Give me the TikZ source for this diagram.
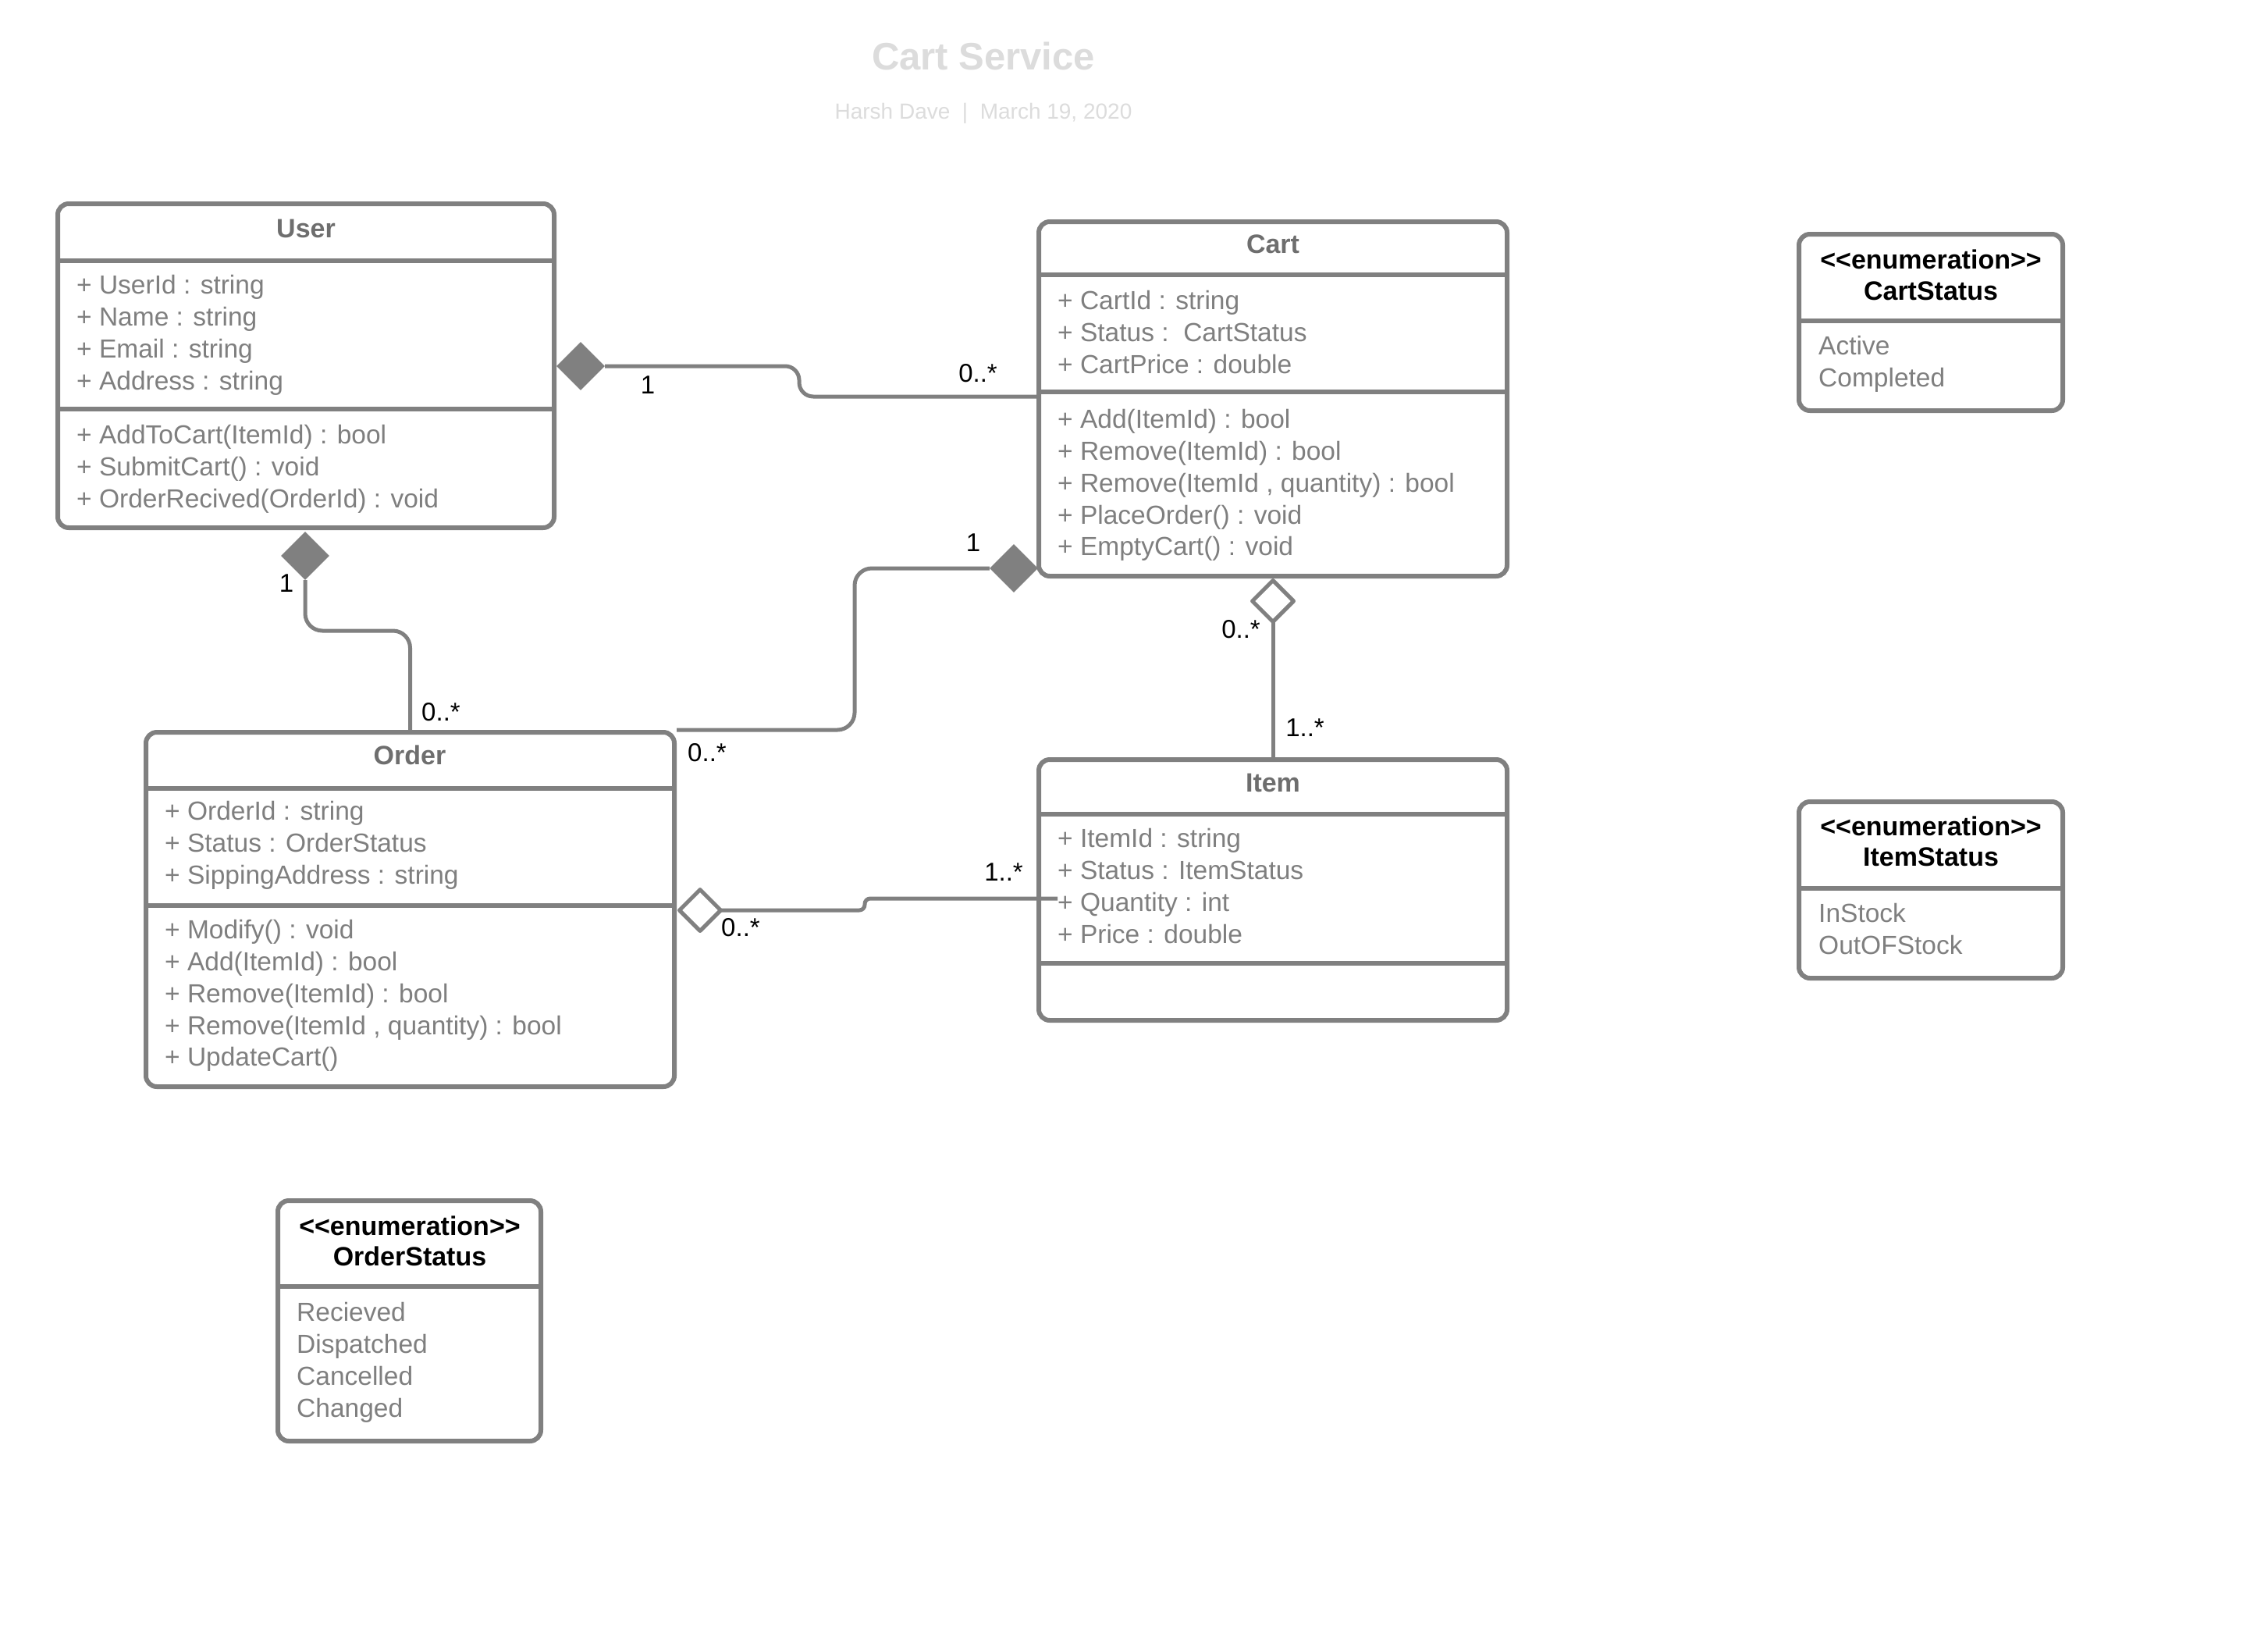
\documentclass[tikz,border=0pt]{standalone}
\usepackage{fontspec}
\setmainfont{Liberation Sans}
\usetikzlibrary{shapes.geometric,fit}
\definecolor{linegray}{HTML}{808080}
\definecolor{textgray}{HTML}{7F7F7F}
\definecolor{headgray}{HTML}{6E6E6E}
\definecolor{palegray}{HTML}{DCDCDC}
\newcommand\stereo[1]{<\kern0pt<#1>\kern0pt>}
\tikzset{
  classbox/.style={draw=linegray, line width=6pt, rounded corners=14pt, inner sep=0pt, fill=white},
  divline/.style={draw=linegray, line width=6pt},
  assoc/.style={draw=linegray, line width=5pt, rounded corners=22pt},
  member/.style={anchor=mid west, inner sep=0pt, text=textgray, font=\fontsize{33.5}{41}\selectfont},
  classname/.style={inner sep=0pt, text=headgray, font=\fontsize{34}{41}\selectfont\bfseries},
  enumname/.style={anchor=mid, inner sep=0pt, text=black, font=\fontsize{34}{41}\selectfont\bfseries},
  mult/.style={inner sep=0pt, text=black, font=\fontsize{33}{40}\selectfont},
  compo/.style={diamond, aspect=1, fill=linegray, inner sep=0pt, minimum size=62pt},
  aggre/.style={diamond, aspect=1, draw=linegray, line width=5pt, fill=white, inner sep=0pt, minimum size=55pt},
}
\begin{document}
\begin{tikzpicture}[x=1pt, y=-1pt, line join=round]
	\def\W{2906} \def\H{2096} % image size in px
	\def\ls{40.8}
	\fill[white] (0,0) rectangle (\W,\H);
	\useasboundingbox (0,0) rectangle (\W,\H);
	% header
	\node[text=palegray, font=\fontsize{49}{58}\selectfont\bfseries] (title) at (1260,72) {Cart Service};
	\node[text=palegray, font=\fontsize{28}{34}\selectfont] (byline) at (1260,145) {Harsh Dave\ \ |\ \ March 19, 2020};
	% classes
	\node[classbox, fit={(74,261) (710,676)}] (user) {};
	\node[classbox, fit={(1331,284) (1931,738)}] (cart) {};
	\node[classbox, fit={(187,938) (864,1392)}] (order) {};
	\node[classbox, fit={(1331,973) (1931,1307)}] (item) {};
	\draw[divline] (74,334)--(710,334) (74,524)--(710,524);
	\draw[divline] (1331,352)--(1931,352) (1331,502)--(1931,502);
	\draw[divline] (187,1010)--(864,1010) (187,1160)--(864,1160);
	\draw[divline] (1331,1043)--(1931,1043) (1331,1234)--(1931,1234);
	\node[classname] (userT) at (392,293) {User};
	\node[classname] (cartT) at (1631,313) {Cart};
	\node[classname] (orderT) at (525,967) {Order};
	\node[classname] (itemT) at (1631,1003) {Item};
	\foreach \t [count=\i from 0] in {+ UserId : string, + Name : string, + Email : string, + Address : string}
		\node[member] (ua\i) at (98,{374+\ls*\i}) {\t};
	\foreach \t [count=\i from 0] in {+ AddToCart(ItemId) : bool, + SubmitCart() : void, + OrderRecived(OrderId) : void}
		\node[member] (um\i) at (98,{566+\ls*\i}) {\t};
	\foreach \t [count=\i from 0] in {+ CartId : string, + Status :\ \ CartStatus, + CartPrice : double}
		\node[member] (ca\i) at (1355,{394+\ls*\i}) {\t};
	\foreach \t [count=\i from 0] in {+ Add(ItemId) : bool, + Remove(ItemId) : bool, {+ Remove(ItemId , quantity) : bool}, + PlaceOrder() : void, + EmptyCart() : void}
		\node[member] (cm\i) at (1355,{546+\ls*\i}) {\t};
	\foreach \t [count=\i from 0] in {+ OrderId : string, + Status : OrderStatus, + SippingAddress : string}
		\node[member] (oa\i) at (211,{1048+\ls*\i}) {\t};
	\foreach \t [count=\i from 0] in {+ Modify() : void, + Add(ItemId) : bool, + Remove(ItemId) : bool, {+ Remove(ItemId , quantity) : bool}, + UpdateCart()}
		\node[member] (om\i) at (211,{1200+\ls*\i}) {\t};
	\foreach \t [count=\i from 0] in {+ ItemId : string, + Status : ItemStatus, + Quantity : int, + Price : double}
		\node[member] (ia\i) at (1355,{1083+\ls*\i}) {\t};
	% enumerations
	\node[classbox, fit={(2305,300) (2643,526)}] (cartstat) {};
	\node[classbox, fit={(2305,1027) (2643,1253)}] (itemstat) {};
	\node[classbox, fit={(356,1538) (693,1846)}] (orderstat) {};
	\draw[divline] (2305,411)--(2643,411) (2305,1138)--(2643,1138) (356,1648)--(693,1648);
	\node[enumname] (csA) at (2474,342) {\stereo{enumeration}};
	\node[enumname] (csB) at (2474,382) {CartStatus};
	\node[enumname] (isA) at (2474,1068) {\stereo{enumeration}};
	\node[enumname] (isB) at (2474,1107) {ItemStatus};
	\node[enumname] (osA) at (525,1580) {\stereo{enumeration}};
	\node[enumname] (osB) at (525,1619) {OrderStatus};
	\foreach \t [count=\i from 0] in {Active, Completed}
		\node[member] (cs\i) at (2330,{452+\ls*\i}) {\t};
	\foreach \t [count=\i from 0] in {InStock, OutOFStock}
		\node[member] (is\i) at (2330,{1179+\ls*\i}) {\t};
	\foreach \t [count=\i from 0] in {Recieved, Dispatched, Cancelled, Changed}
		\node[member] (os\i) at (380,{1690+\ls*\i}) {\t};
	% relations
	\node[compo] (d1) at (744,469) {};
	\node[compo] (d2) at (391,712) {};
	\node[compo] (d3) at (1299,728) {};
	\coordinate (cartIn) at (1331,508);
	\coordinate (qty) at (1355,1151);
	\draw[assoc, rounded corners=18pt] (d1.east) -- (1024,469) -- (1024,508) -- (cartIn);
	\draw[assoc] (d2.south) -- (391,808) -| (order.north);
	\draw[assoc] (d3.west) -- (1095,728) |- (order.north east);
	\draw[assoc] (1631,770) -- (item.north);
	\draw[assoc, rounded corners=7pt] (897,1166) -- (1108,1166) -- (1108,1151) -- (qty);
	\node[aggre] (d4) at (1631,770) {};
	\node[aggre] (d5) at (897,1166) {};
	% multiplicities
	\node[mult] (m1) at (830,493) {1};
	\node[mult] (m2) at (1253,478) {0..*};
	\node[mult] (m3) at (367,747) {1};
	\node[mult] (m4) at (565,912) {0..*};
	\node[mult] (m5) at (1247,695) {1};
	\node[mult] (m6) at (906,964) {0..*};
	\node[mult] (m7) at (1590,806) {0..*};
	\node[mult] (m8) at (1672,932) {1..*};
	\node[mult] (m9) at (949,1188) {0..*};
	\node[mult] (m10) at (1286,1117) {1..*};
\end{tikzpicture}
\end{document}
